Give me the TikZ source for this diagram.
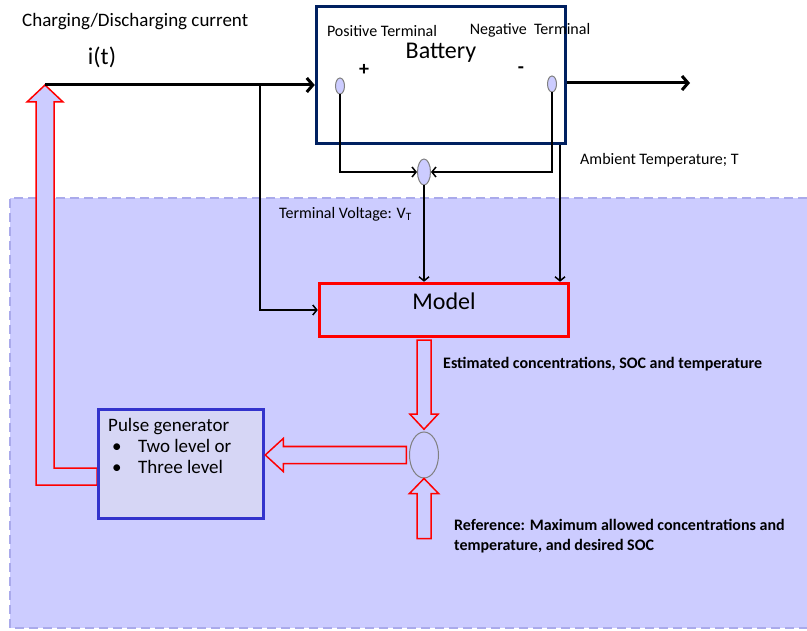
\documentclass[tikz,border=0pt]{standalone}
\usepackage{fontspec}
\setmainfont{Carlito}
\usetikzlibrary{arrows.meta}
\usetikzlibrary{calc}
\usetikzlibrary{shapes.geometric}

\definecolor{lav}{RGB}{204,204,255}
\definecolor{lavedge}{RGB}{170,170,235}
\definecolor{navy}{RGB}{0,32,96}
\definecolor{pulseblue}{RGB}{51,51,204}
\definecolor{pulsefill}{RGB}{214,214,245}

\tikzset{
  wire/.style={line width=1.5pt, -{Straight Barb[length=4pt,width=10pt]}},
  current/.style={line width=3pt, -{Straight Barb[length=6pt,width=14pt]}},
  hollow/.style={draw=red, fill=lav, line width=1.5pt, line join=miter},
  term/.style={ellipse, draw=gray, fill=lav, line width=1pt, inner sep=0pt},
  lbl/.style={font=\fontsize{16}{19}\selectfont, inner sep=0pt},
  boldlbl/.style={font=\fontsize{16}{20}\selectfont\bfseries, inner sep=0pt, align=left},
}

\begin{document}
\begin{tikzpicture}[x=1pt,y=-1pt]
      \useasboundingbox (0,0) rectangle (807,631);

      % shaded region of the controller
      \fill[lav] (10,198) rectangle (807,628);
      \draw[lavedge, line width=2.5pt, dash pattern=on 9pt off 5pt] (807,198) -- (10,198) -- (10,628) -- (807,628);

      % blocks
      \node[draw=navy, line width=3.5pt, fill=white, minimum width=249pt, minimum height=137pt] (bat) at (441,75) {};
      \node[draw=red, line width=3.5pt, fill=lav, minimum width=249pt, minimum height=53pt] (mod) at (444,310) {};
      \node[term, minimum width=9pt, minimum height=16pt] (pos) at (340,86) {};
      \node[term, minimum width=9pt, minimum height=16pt] (neg) at (552,84) {};
      \node[term, minimum width=13pt, minimum height=26pt] (jn) at (424,172) {};
      \node[ellipse, draw=gray, line width=1pt, inner sep=0pt, minimum width=29pt, minimum height=46pt] (cmp) at (424,455) {};

      \coordinate (src) at (45,85);
      \coordinate (br) at (260,85);
      \coordinate (out) at (690,83);
      \coordinate (amb) at (560,145);

      % hollow arrows
      \path[hollow, shift={(src)}] (0,0) -- (18,17) -- (9,17) -- (9,383) -- (52,383) -- (52,400) -- (-9,400) -- (-9,17) -- (-18,17) -- cycle;
      \path[hollow, shift={(cmp.north |- mod.south)}] (-7,2) -- (7,2) -- (7,76) -- (14,76) -- (0,91) -- (-14,76) -- (-7,76) -- cycle;
      \path[hollow, shift={(cmp.south)}] (0,0) -- (14.5,15) -- (7,15) -- (7,60) -- (-7,60) -- (-7,15) -- (-14.5,15) -- cycle;

      \node[draw=pulseblue, line width=3.5pt, fill=pulsefill, minimum width=165pt, minimum height=109pt] (pulse) at (181,464) {};
      \path[hollow, shift={(pulse.east |- cmp.west)}] (0,0) -- (18,-16.5) -- (18,-8.5) -- (141,-8.5) -- (141,8.5) -- (18,8.5) -- (18,16.5) -- cycle;

      % connectors
      \draw[current] (src) -- (src -| bat.west);
      \draw[current] (bat.east |- out) -- (out);
      \draw[wire] (br) |- (mod.west);
      \draw[wire] (pos.south) |- (jn.west);
      \draw[wire] (neg.south) |- (jn.east);
      \draw[wire] (jn.south) -- (jn.south |- mod.north);
      \draw[wire] (amb) -- (amb |- mod.north);

      % labels
      \node[lbl, anchor=west, font=\fontsize{19}{22}\selectfont] (chg) at (22,22) {Charging/Discharging current};
      \node[lbl, font=\fontsize{24}{28}\selectfont] (cur) at (102,57) {i(t)};
      \node[lbl] (plbl) at (382,31) {Positive Terminal};
      \node[lbl] (nlbl) at (530,30) {Negative~ Terminal};
      \node[lbl, font=\fontsize{24}{28}\selectfont] (blbl) at (441,53) {Battery};
      \node[lbl, font=\fontsize{20}{24}\selectfont\bfseries] (plus) at (364,70) {+};
      \node[lbl, font=\fontsize{20}{24}\selectfont\bfseries] (minus) at (521,70) {-};
      \node[lbl, anchor=west] (tlbl) at (580,160) {Ambient Temperature; T};
      \node[lbl, anchor=west] (vlbl) at (279,214) {Terminal Voltage: V\textsubscript{T}};
      \node[lbl, font=\fontsize{24}{28}\selectfont] (mlbl) at (444,301) {Model};
      \node[boldlbl, anchor=west] (elbl) at (443,364) {Estimated concentrations, SOC and temperature};
      \node[boldlbl, anchor=north west] (rlbl) at (454,519) {Reference: Maximum allowed concentrations and\\temperature, and desired SOC};
      \node[lbl, anchor=north west, align=left, font=\fontsize{19}{21}\selectfont] (glbl) at (108,418)
        {Pulse generator\\\hspace*{4pt}\makebox[26pt][l]{\textbullet}Two level or\\\hspace*{4pt}\makebox[26pt][l]{\textbullet}Three level};
\end{tikzpicture}
\end{document}
